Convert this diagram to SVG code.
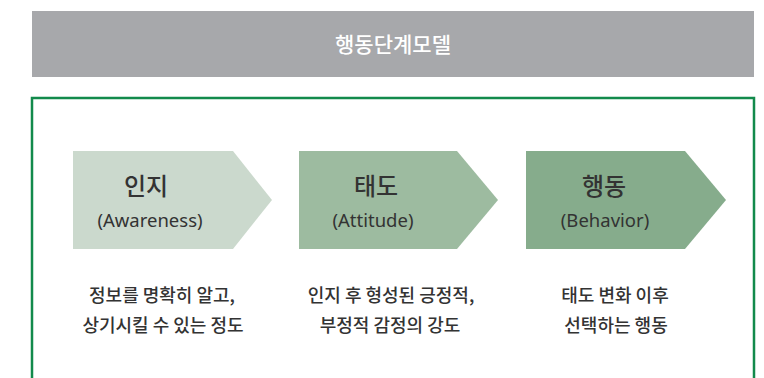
<svg xmlns="http://www.w3.org/2000/svg" width="764" height="378" viewBox="0 0 764 378">
<style>
.kr{font-family:"Noto Sans CJK KR","Noto Sans",sans-serif;fill:#333333;text-anchor:middle}
.title{font-size:21px;fill:#ffffff;font-weight:500}
.lab{font-size:24px;font-weight:500}
.en{font-family:"Noto Sans","Open Sans",sans-serif;font-size:18.5px;fill:#333333;text-anchor:middle}
.desc{font-size:18px;font-weight:500}
</style>
<rect width="764" height="378" fill="#ffffff"/>
<g id="header">
<rect x="32" y="11" width="722" height="66" fill="#a7a8ab"/>
<text class="kr title" x="393" y="52">행동단계모델</text>
</g>
<g id="frame">
<path d="M32,380 V98 H754 V380" fill="none" stroke="#138a4c" stroke-width="2.5"/>
</g>
<g id="node-awareness">
<polygon points="73,151 233,151 272,200 233,249 73,249" fill="#cbd9cd"/>
<text class="kr lab" x="146" y="195">인지</text>
<text class="en" x="150" y="227">(Awareness)</text>
</g>
<g id="node-attitude">
<polygon points="299,151 457,151 498,200 457,249 299,249" fill="#9dbba0"/>
<text class="kr lab" x="376" y="195">태도</text>
<text class="en" x="373" y="227">(Attitude)</text>
</g>
<g id="node-behavior">
<polygon points="526,151 685,151 726,200 685,249 526,249" fill="#86ac8c"/>
<text class="kr lab" x="604" y="195">행동</text>
<text class="en" x="605" y="227">(Behavior)</text>
</g>
<g id="desc-awareness">
<text class="kr desc" x="162" y="302">정보를 명확히 알고,</text>
<text class="kr desc" x="163" y="332">상기시킬 수 있는 정도</text>
</g>
<g id="desc-attitude">
<text class="kr desc" x="391" y="302">인지 후 형성된 긍정적,</text>
<text class="kr desc" x="390" y="332">부정적 감정의 강도</text>
</g>
<g id="desc-behavior">
<text class="kr desc" x="615" y="302">태도 변화 이후</text>
<text class="kr desc" x="616" y="332">선택하는 행동</text>
</g>
</svg>
